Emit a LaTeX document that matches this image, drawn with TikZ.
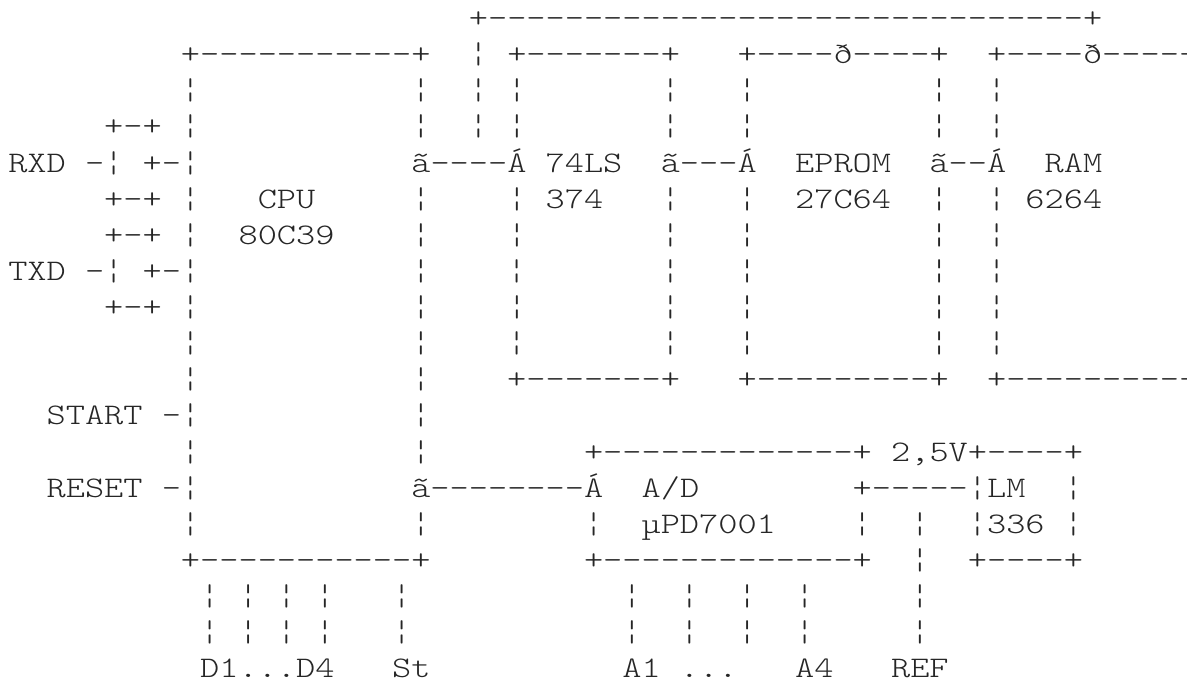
\documentclass[tikz,border=0pt]{standalone}
\usepackage{fontspec}
\setmonofont[FakeStretch=1.224]{Latin Modern Mono Light}
\tikzset{
  every picture/.style={x=0.75pt, y=-0.75pt},
  rowtxt/.style={anchor=base west, inner sep=0pt, text=black!85, font=\ttfamily\fontsize{22.4pt}{24pt}\selectfont\frenchspacing},
}
\begin{document}
\begin{tikzpicture}
  \useasboundingbox (0, 0) rectangle (1187, 681);
  \foreach \r/\t in {
    0/{~~~~~~~~~~~~~~~~~~~~~~~~+-------------------------------+},
    1/{~~~~~~~~~+-----------+~~¦~+-------+~~~+----ð----+~~+----ð-----},
    2/{~~~~~~~~~¦~~~~~~~~~~~¦~~¦~¦~~~~~~~¦~~~¦~~~~~~~~~¦~~¦},
    3/{~~~~~+-+~¦~~~~~~~~~~~¦~~¦~¦~~~~~~~¦~~~¦~~~~~~~~~¦~~¦},
    4/{RXD~-¦~+-¦~~~~~~~~~~~ã----Á~74LS~~ã---Á~~EPROM~~ã--Á~~RAM},
    5/{~~~~~+-+~¦~~~CPU~~~~~¦~~~~¦~374~~~¦~~~¦~~27C64~~¦~~¦~6264},
    6/{~~~~~+-+~¦~~80C39~~~~¦~~~~¦~~~~~~~¦~~~¦~~~~~~~~~¦~~¦},
    7/{TXD~-¦~+-¦~~~~~~~~~~~¦~~~~¦~~~~~~~¦~~~¦~~~~~~~~~¦~~¦},
    8/{~~~~~+-+~¦~~~~~~~~~~~¦~~~~¦~~~~~~~¦~~~¦~~~~~~~~~¦~~¦},
    9/{~~~~~~~~~¦~~~~~~~~~~~¦~~~~¦~~~~~~~¦~~~¦~~~~~~~~~¦~~¦},
    10/{~~~~~~~~~¦~~~~~~~~~~~¦~~~~+-------+~~~+---------+~~+----------},
    11/{~~START~-¦~~~~~~~~~~~¦},
    12/{~~~~~~~~~¦~~~~~~~~~~~¦~~~~~~~~+-------------+~2,5V+----+},
    13/{~~RESET~-¦~~~~~~~~~~~ã--------Á~~A/D~~~~~~~~+-----¦LM~~¦},
    14/{~~~~~~~~~¦~~~~~~~~~~~¦~~~~~~~~¦~~µPD7001~~~~¦~~¦~~¦336~¦},
    15/{~~~~~~~~~+-----------+~~~~~~~~+-------------+~~¦~~+----+},
    16/{~~~~~~~~~~¦~¦~¦~¦~~~¦~~~~~~~~~~~¦~~¦~~¦~~¦~~~~~¦},
    17/{~~~~~~~~~~¦~¦~¦~¦~~~¦~~~~~~~~~~~¦~~¦~~¦~~¦~~~~~¦},
    18/{~~~~~~~~~~D1...D4~~~St~~~~~~~~~~A1~...~~~A4~~~REF}} {
    \node[rowtxt] (row\r) at (8, {172+36.13*(\r-4)}) {\t};
  }
\end{tikzpicture}
\end{document}
